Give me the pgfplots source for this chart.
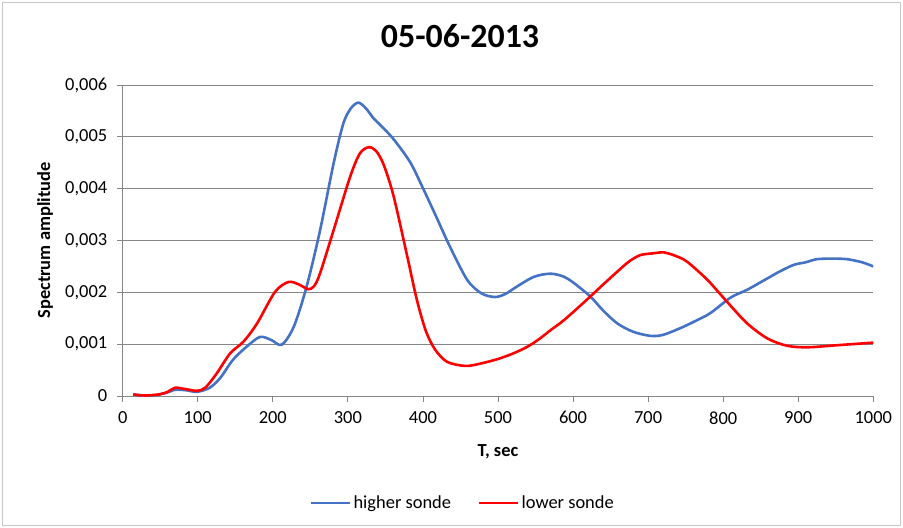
\documentclass[border=0pt]{standalone}
\usepackage{pgfplots}
\pgfplotsset{compat=1.18}
\usepackage{fontspec}
\setmainfont{Carlito}
\definecolor{xlblue}{RGB}{68,114,196}
\definecolor{xlred}{RGB}{255,0,0}
\definecolor{xlgrid}{RGB}{134,134,134}
\definecolor{xlframe}{RGB}{200,200,200}

\begin{document}
\begin{tikzpicture}
\begin{axis}[
  name=ax, at={(0,0)}, anchor=south west,
  scale only axis, width=750.6bp, height=311bp,
  xmin=0, xmax=1000, ymin=0, ymax=0.006,
  xtick={0,100,...,1000},
  ytick={0,0.001,0.002,0.003,0.004,0.005,0.006},
  yticklabels={0,{0,001},{0,002},{0,003},{0,004},{0,005},{0,006}},
  scaled y ticks=false,
  /pgf/number format/assume math mode=true,
  /pgf/number format/1000 sep={},
  axis lines=left, axis line style={draw=xlgrid, line width=0.8bp, -},
  tick align=outside, major tick length=6bp,
  tick style={draw=xlgrid, line width=0.8bp},
  ymajorgrids, grid style={draw=xlgrid, line width=0.8bp},
  ticklabel style={font=\fontsize{18.5}{22}\selectfont},
  xticklabel style={yshift=-6bp},
  yticklabel style={xshift=-6bp},
  title={\textbf{05-06-2013}},
  title style={at={(axis description cs:0.4494,1.138)}, anchor=center,
    font=\fontsize{34}{40}\selectfont},
  xlabel={\textbf{T, sec}},
  xlabel style={at={(axis description cs:0.5,-0.18)}, anchor=center,
    font=\fontsize{18.5}{22}\selectfont},
  ylabel={\textbf{Spectrum amplitude}},
  ylabel style={at={(axis description cs:-0.1035,0.5)}, anchor=center, rotate=0,
    font=\fontsize{18.5}{22}\selectfont},
  legend columns=2,
  legend style={at={(axis description cs:0.4532,-0.344)}, anchor=center,
    draw=none, fill=none, font=\fontsize{18.5}{22}\selectfont,
    /tikz/every even column/.append style={column sep=25bp}},
  legend image code/.code={\draw[#1] (0bp,0bp) -- (39bp,0bp);},
]
\addplot[xlblue, line width=2.6bp, smooth, tension=0.5] coordinates {
(14,0.00003)(30,0.00001)(45,0.00002)(58,0.00006)(70,0.00012)(85,0.00011)
(99,0.00008)(116,0.00016)(130,0.00035)(147,0.0007)(165,0.00095)(183,0.00114)
(198,0.00108)(212,0.00099)(228,0.00134)(245,0.00211)(263,0.0032)(281,0.00449)
(294,0.00526)(304,0.00555)(314,0.00566)(324,0.00555)(334,0.00536)(343,0.00523)
(360,0.00497)(383,0.00451)(401,0.00398)(418,0.00345)(436,0.00288)(459,0.00224)
(478,0.00198)(496,0.00191)(510,0.00197)(525,0.00211)(548,0.0023)(570,0.00236)
(588,0.0023)(601,0.00218)(623,0.00192)(640,0.00165)(659,0.0014)(680,0.00124)
(703,0.00116)(720,0.00118)(743,0.00131)(762,0.00144)(783,0.0016)(810,0.0019)
(832,0.00205)(859,0.00227)(875,0.0024)(894,0.00253)(910,0.00258)(925,0.00264)
(945,0.00265)(965,0.00264)(985,0.00258)(1000,0.0025)};
\addplot[xlred, line width=2.6bp, smooth, tension=0.5] coordinates {
(14,0.00003)(28,0.00001)(48,0.00003)(60,0.00008)(70,0.00016)(85,0.00013)
(99,0.0001)(110,0.00016)(125,0.00043)(143,0.00082)(161,0.00105)(179,0.0014)
(203,0.00201)(221,0.0022)(235,0.00215)(247,0.00206)(255,0.00212)(263,0.00237)
(281,0.0032)(303,0.00423)(316,0.00468)(328,0.00480)(338,0.00472)(348,0.00445)
(361,0.00385)(379,0.00270)(392,0.00185)(404,0.00125)(416,0.00090)(432,0.00066)
(456,0.00058)(475,0.00062)(499,0.00071)(520,0.00082)(539,0.00095)(555,0.0011)
(570,0.00127)(585,0.00143)(601,0.00163)(623,0.00192)(640,0.00215)(659,0.0024)
(675,0.0026)(690,0.00272)(705,0.00275)(721,0.00277)(737,0.0027)(752,0.00259)
(779,0.00224)(805,0.00182)(832,0.0014)(859,0.00111)(885,0.00097)(912,0.00094)
(952,0.00098)(1000,0.00103)};
\legend{higher sonde, lower sonde}
\end{axis}
\useasboundingbox ([shift={(-122.7bp,-132bp)}]ax.south west) rectangle ([shift={(780.3bp,396bp)}]ax.south west);
\draw[xlframe, line width=0.8bp] ([shift={(-120.2bp,-129.5bp)}]ax.south west) rectangle ([shift={(777.8bp,393.5bp)}]ax.south west);
\end{tikzpicture}
\end{document}
